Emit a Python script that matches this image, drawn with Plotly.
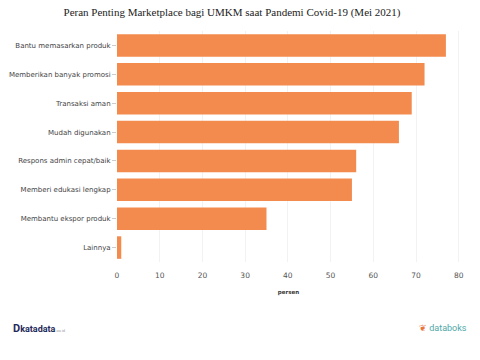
import plotly.graph_objects as go

categories = [
    "Bantu memasarkan produk",
    "Memberikan banyak promosi",
    "Transaksi aman",
    "Mudah digunakan",
    "Respons admin cepat/baik",
    "Memberi edukasi lengkap",
    "Membantu ekspor produk",
    "Lainnya",
]
values = [77, 72, 69, 66, 56, 55, 35, 1]
x_ticks = [0, 10, 20, 30, 40, 50, 60, 70, 80]

fig = go.Figure(
    go.Bar(
        x=values,
        y=categories,
        orientation="h",
        marker=dict(color="#F38B4F", line=dict(width=0)),
    )
)

fig.update_layout(
    template="none",
    width=480,
    height=360,
    margin=dict(l=117, r=20, t=31, b=98, autoexpand=False),
    paper_bgcolor="white",
    plot_bgcolor="white",
    bargap=0.22,
    showlegend=False,
    title=dict(
        text="Peran Penting Marketplace bagi UMKM saat Pandemi Covid-19 (Mei 2021)",
        font=dict(family="Liberation Serif", size=11, color="#222222"),
        x=232 / 480,
        xanchor="center",
        xref="container",
        y=1 - 12 / 360,
        yref="container",
        yanchor="middle",
    ),
    xaxis=dict(
        range=[0, 80.3],
        tickvals=x_ticks,
        automargin=False,
        showgrid=True,
        gridcolor="#F2F2F2",
        gridwidth=1,
        zeroline=False,
        showline=False,
        ticks="",
        ticklabelstandoff=7,
        tickfont=dict(family="DejaVu Sans", size=7.5, color="#555555"),
        title=dict(
            text="<b>persen</b>",
            font=dict(family="DejaVu Sans", size=5.5, color="#333333"),
            standoff=11,
        ),
    ),
    yaxis=dict(
        autorange="reversed",
        automargin=False,
        showgrid=False,
        zeroline=False,
        showline=False,
        ticks="outside",
        ticklen=4,
        tickcolor="#CCCCCC",
        tickfont=dict(family="DejaVu Sans", size=7, color="#444444"),
    ),
)

fig.add_annotation(
    x=-0.31, y=-0.286, xref="paper", yref="paper",
    xanchor="left", yanchor="middle", showarrow=False,
    text="<b><span style='font-size:11px'>D</span>katadata</b><span style='font-size:4px;color:#999999'>.co.id</span>",
    font=dict(family="Roboto", size=9, color="#1F2A5A"),
)
fig.add_annotation(
    x=1.025, y=-0.286, xref="paper", yref="paper",
    xanchor="right", yanchor="middle", showarrow=False,
    text="<span style='color:#E8743B'>❦</span> databoks",
    font=dict(family="Roboto", size=9, color="#4FA8A8"),
)

fig.write_html(
    "out.html",
    config={"displayModeBar": False},
    post_script="document.body.style.margin='0';document.body.style.padding='0';",
)
